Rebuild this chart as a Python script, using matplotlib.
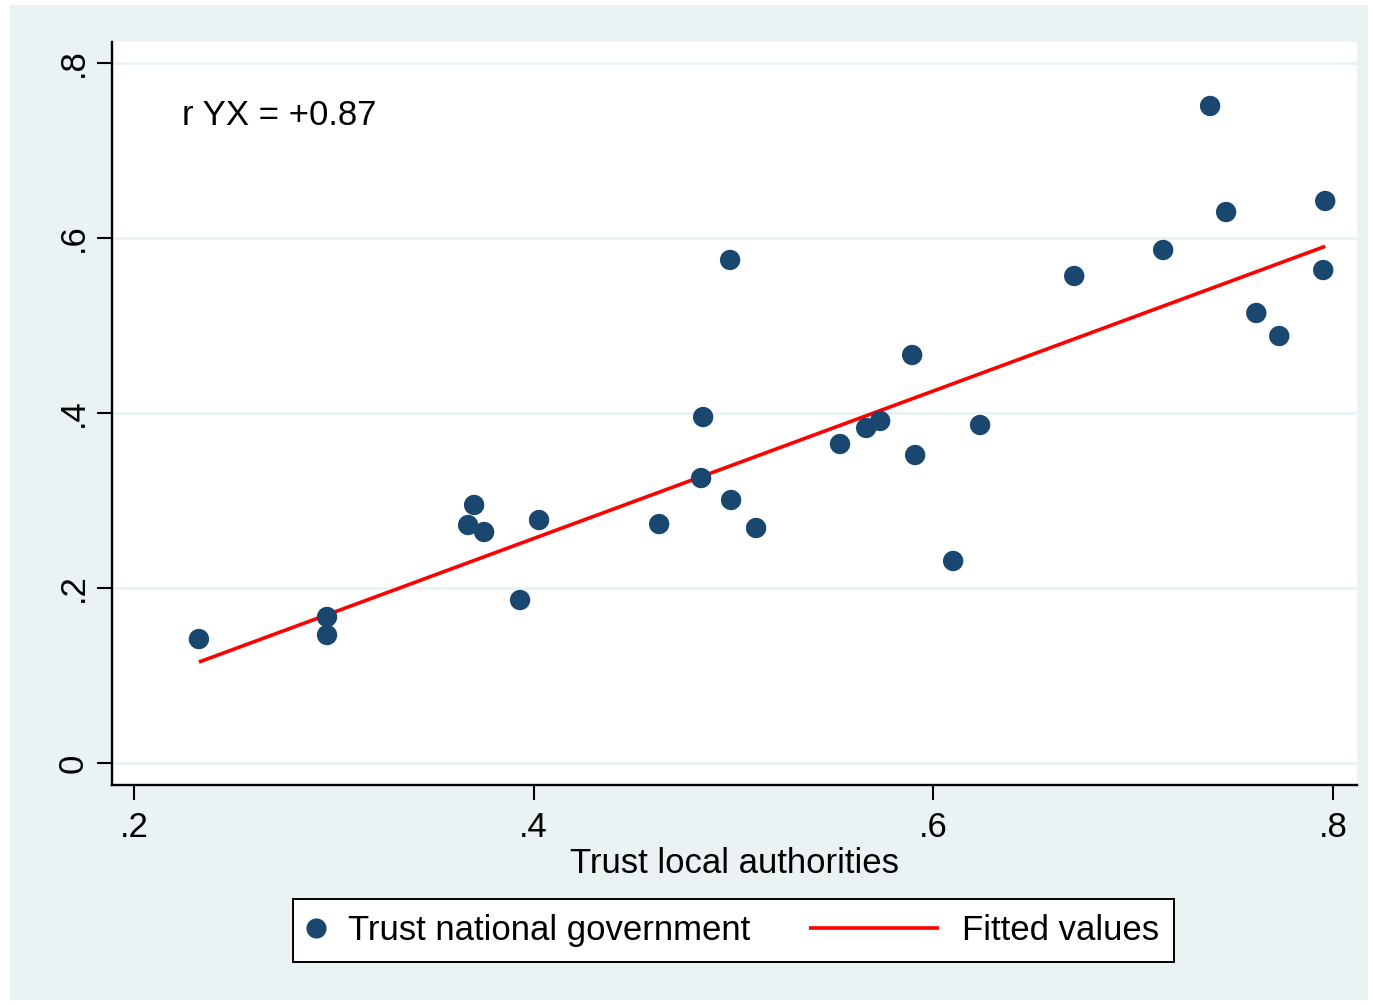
import numpy as np
import matplotlib
matplotlib.use("Agg")
import matplotlib.pyplot as plt
from matplotlib.patches import Rectangle
from matplotlib.lines import Line2D
from matplotlib.legend_handler import HandlerBase

plt.rcParams["font.family"] = ["Liberation Sans", "DejaVu Sans"]

# Trust in local authorities (x) vs trust in national government (y)
trust_local = [0.2325, 0.2966, 0.2966, 0.3672, 0.3702, 0.3752, 0.3932, 0.4027,
               0.4628, 0.4838, 0.4848, 0.4983, 0.4988, 0.5113, 0.5533, 0.5664,
               0.5734, 0.5894, 0.5909, 0.6099, 0.6234, 0.6705, 0.7150, 0.7385,
               0.7465, 0.7616, 0.7731, 0.7951, 0.7961]
trust_national = [0.1417, 0.1669, 0.1463, 0.2720, 0.2949, 0.2640, 0.1863, 0.2777,
                  0.2731, 0.3257, 0.3954, 0.5749, 0.3006, 0.2686, 0.3646, 0.3829,
                  0.3909, 0.4663, 0.3520, 0.2309, 0.3863, 0.5566, 0.5863, 0.7509,
                  0.6297, 0.5143, 0.4880, 0.5634, 0.6423]
# Fitted values of the linear regression at the ends of the x range
fit_x = [0.2325, 0.7961]
fit_y = [0.1154, 0.5905]
x_ticks = [0.2, 0.4, 0.6, 0.8]
x_tick_labels = [".2", ".4", ".6", ".8"]
y_ticks = [0.0, 0.2, 0.4, 0.6, 0.8]
y_tick_labels = ["0", ".2", ".4", ".6", ".8"]
annotation = "r YX = +0.87"

BG = "#EAF2F3"
NAVY = "#1A476F"
RED = "#FF0000"

W, H = 1373, 1005
fig = plt.figure(figsize=(W / 100, H / 100), dpi=100, facecolor="white")
fig.patches.append(Rectangle((10 / W, 5 / H), (1368 - 10) / W, (1000 - 5) / H,
                             transform=fig.transFigure, facecolor=BG,
                             edgecolor="none", zorder=-10))

ax = fig.add_axes([112 / W, 1 - 785 / H, (1357 - 112) / W, (785 - 42) / H])
ax.set_facecolor("white")

ax.plot(fit_x, fit_y, color=RED, lw=2.6, zorder=3, solid_capstyle="butt")
ax.scatter(trust_local, trust_national, s=215, color=NAVY, edgecolors="none",
           zorder=4)

ax.set_xlim(0.189, 0.812)
ax.set_ylim(-0.0251, 0.824)

ax.set_yticks(y_ticks)
ax.set_yticklabels(y_tick_labels, rotation=90, va="center")
ax.set_xticks(x_ticks)
ax.set_xticklabels(x_tick_labels)
ax.tick_params(axis="both", labelsize=25, length=11, width=1.5, color="black",
               direction="out")
ax.tick_params(axis="y", pad=5)
ax.tick_params(axis="x", pad=8)

ax.grid(axis="y", color=BG, lw=2)
ax.set_axisbelow(True)
for side in ("top", "right"):
    ax.spines[side].set_visible(False)
for side in ("left", "bottom"):
    ax.spines[side].set_linewidth(1.7)
    ax.spines[side].set_color("black")

ax.set_xlabel("Trust local authorities", fontsize=25, labelpad=2)

ax.text(0.0562, 0.9017, annotation, transform=ax.transAxes, fontsize=25,
        va="center", ha="left", color="black")


class LongLineHandler(HandlerBase):
    """Legend key line that reaches back to the left of its handle box."""

    def __init__(self, start, end):
        super().__init__()
        self.start = start
        self.end = end

    def create_artists(self, legend, orig_handle, xdescent, ydescent,
                       width, height, fontsize, trans):
        y = height / 2 - ydescent
        line = Line2D([self.start * fontsize - xdescent,
                       self.end * fontsize - xdescent], [y, y],
                      color=orig_handle.get_color(),
                      lw=orig_handle.get_linewidth(),
                      solid_capstyle="butt")
        line.set_transform(trans)
        return [line]


dot_key = Line2D([], [], ls="none", marker="o", markersize=14.5, color=NAVY,
                 markeredgewidth=0)
fit_key = Line2D([], [], color=RED, lw=2.6)
leg = fig.legend([dot_key, fit_key], ["Trust national government", "Fitted values"],
                 handler_map={fit_key: LongLineHandler(-3.25, 0.5)},
                 loc="center", bbox_to_anchor=(733.5 / W, 1 - 930.5 / H),
                 ncol=2, fontsize=25, frameon=True, fancybox=False,
                 edgecolor="black", facecolor="white", framealpha=1,
                 handlelength=0.5, handletextpad=0.66, columnspacing=4.95,
                 borderpad=0.42, borderaxespad=0)
leg.get_frame().set_linewidth(1.4)

fig.savefig("out.png", dpi=100, facecolor="white")
